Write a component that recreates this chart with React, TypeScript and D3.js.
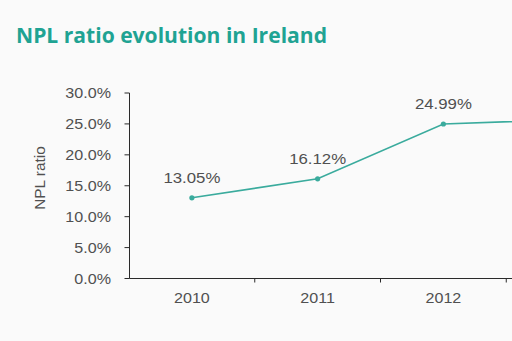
import React from "react";
import * as d3 from "d3";

const years = ["2010", "2011", "2012", "2013"];
const nplRatio = [13.05, 16.12, 24.99, 25.7];
const dataLabels = ["13.05%", "16.12%", "24.99%", "25.70%"];
const yTicks = [0, 5, 10, 15, 20, 25, 30];

const W = 512;
const H = 341;
const teal = "#1fa393";
const lineColor = "#3aab9d";
const textColor = "#505050";
const font = "'Liberation Sans', Arial, sans-serif";
const titleFont = "'Open Sans', 'DejaVu Sans', sans-serif";

export default function App() {
  const x = d3.scaleBand<string>().domain(years).range([129, 632]);
  const y = d3.scaleLinear().domain([0, 30]).range([278.5, 93]);
  const cx = (d: string) => (x(d) as number) + x.bandwidth() / 2;
  const line = d3
    .line<number>()
    .x((_, i) => cx(years[i]))
    .y((v) => y(v));
  const axisX = 129.5;
  const axisY = y(0);
  return (
    <svg
      width={W}
      height={H}
      style={{ position: "absolute", left: 0, top: 0, background: "#fafafa" }}
    >
      <rect x={0} y={0} width={W} height={H} fill="#fafafa" />
      <text
        x={16}
        y={43}
        fill={teal}
        fontFamily={titleFont}
        fontWeight="bold"
        fontSize={21}
        textLength={311}
        lengthAdjust="spacingAndGlyphs"
      >
        NPL ratio evolution in Ireland
      </text>
      {/* y axis */}
      <line x1={axisX} x2={axisX} y1={y(30)} y2={axisY} stroke="#2a2a2a" strokeWidth={1} />
      {yTicks.map((t) => (
        <g key={t}>
          <line x1={axisX - 5} x2={axisX} y1={y(t)} y2={y(t)} stroke="#2a2a2a" strokeWidth={1} />
          <text
            transform={`translate(111,${y(t) + 5}) scale(1.15,1)`}
            textAnchor="end"
            fill={textColor}
            fontFamily={font}
            fontSize={14}
          >
            {t.toFixed(1) + "%"}
          </text>
        </g>
      ))}
      <text
        transform={`translate(45,178) rotate(-90) scale(1.1,1)`}
        textAnchor="middle"
        fill={textColor}
        fontFamily={font}
        fontSize={14}
      >
        NPL ratio
      </text>
      {/* x axis */}
      <line x1={axisX} x2={632} y1={axisY} y2={axisY} stroke="#2a2a2a" strokeWidth={1} />
      {years.map((yr) => (
        <g key={yr}>
          <line
            x1={(x(yr) as number) + x.bandwidth()}
            x2={(x(yr) as number) + x.bandwidth()}
            y1={axisY}
            y2={axisY + 4}
            stroke="#2a2a2a"
            strokeWidth={1}
          />
          {cx(yr) + 25 < W && (
            <text
              transform={`translate(${cx(yr)},303) scale(1.15,1)`}
              textAnchor="middle"
              fill={textColor}
              fontFamily={font}
              fontSize={14}
            >
              {yr}
            </text>
          )}
        </g>
      ))}
      <path d={line(nplRatio) || ""} fill="none" stroke={lineColor} strokeWidth={1.6} />
      {nplRatio.map((v, i) => (
        <g key={i}>
          <circle cx={cx(years[i])} cy={y(v)} r={2.6} fill={lineColor} />
          {cx(years[i]) + 30 < W && (
            <text
              transform={`translate(${cx(years[i])},${y(v) - 14.5}) scale(1.12,1)`}
              textAnchor="middle"
              fill={textColor}
              fontFamily={font}
              fontSize={15}
            >
              {dataLabels[i]}
            </text>
          )}
        </g>
      ))}
    </svg>
  );
}
